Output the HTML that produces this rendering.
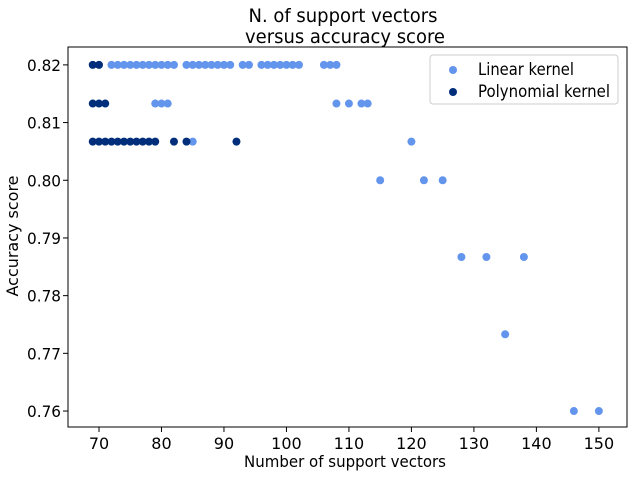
<!DOCTYPE html>
<html><head><meta charset="utf-8"><style>
body{margin:0;background:#fff;font-family:"DejaVu Sans","Liberation Sans",sans-serif;}
svg text{font-family:"DejaVu Sans","Liberation Sans",sans-serif;}
</style></head><body>
<svg id="chart" width="631" height="476" viewBox="0 0 631 476" xmlns="http://www.w3.org/2000/svg">
<text x="343" y="22" font-size="19" text-anchor="middle" textLength="189" lengthAdjust="spacingAndGlyphs">N. of support vectors</text>
<text x="345" y="43" font-size="19" text-anchor="middle" textLength="200" lengthAdjust="spacingAndGlyphs">versus accuracy score</text>
<text x="345" y="467" font-size="16" text-anchor="middle" textLength="202" lengthAdjust="spacingAndGlyphs">Number of support vectors</text>
<text transform="translate(18,236) rotate(-90)" font-size="16" text-anchor="middle" textLength="121" lengthAdjust="spacingAndGlyphs">Accuracy score</text>
<g id="ticks"></g>
<g id="marks"></g>
<rect x="68" y="47" width="559" height="380" fill="none" stroke="#000" stroke-width="1"/>
<g>
<rect x="430" y="55" width="188" height="49" rx="3" fill="#fff" stroke="#ccc"/>
<circle cx="453" cy="70" r="4" fill="#6495ed"/>
<text x="478" y="75" font-size="16.5" textLength="96" lengthAdjust="spacingAndGlyphs">Linear kernel</text>
<circle cx="453" cy="92" r="4" fill="#002e7a"/>
<text x="478" y="97" font-size="16.5" textLength="132" lengthAdjust="spacingAndGlyphs">Polynomial kernel</text>
</g>
</svg>
<script>
const xTicks=[70,80,90,100,110,120,130,140,150];
const yTicks=[0.76,0.77,0.78,0.79,0.80,0.81,0.82];
const yTickLabels=["0.76","0.77","0.78","0.79","0.80","0.81","0.82"];
const linearX=[72,73,74,75,76,77,78,79,80,81,82,84,85,86,87,88,89,90,91,93,94,96,97,98,99,100,101,102,106,107,108,
 79,80,81,108,110,112,113, 85,120, 115,122,125, 128,132,138, 135, 146,150];
const linearY=[0.82,0.82,0.82,0.82,0.82,0.82,0.82,0.82,0.82,0.82,0.82,0.82,0.82,0.82,0.82,0.82,0.82,0.82,0.82,0.82,0.82,0.82,0.82,0.82,0.82,0.82,0.82,0.82,0.82,0.82,0.82,
 0.8133,0.8133,0.8133,0.8133,0.8133,0.8133,0.8133, 0.8067,0.8067, 0.80,0.80,0.80, 0.7867,0.7867,0.7867, 0.7733, 0.76,0.76];
const polyX=[69,70, 69,70,71, 69,70,71,72,73,74,75,76,77,78,79,82,84,92];
const polyY=[0.82,0.82, 0.8133,0.8133,0.8133, 0.8067,0.8067,0.8067,0.8067,0.8067,0.8067,0.8067,0.8067,0.8067,0.8067,0.8067,0.8067,0.8067,0.8067];
const X0=68,X1=627,Y0=47,Y1=427,xmin=65.04,xmax=154.5,ymin=0.75723,ymax=0.8231;
const sx=v=>X0+(v-xmin)/(xmax-xmin)*(X1-X0);
const sy=v=>Y1-(v-ymin)/(ymax-ymin)*(Y1-Y0);
const NS="http://www.w3.org/2000/svg";
const tg=document.getElementById('ticks'),mg=document.getElementById('marks');
function mk(t,a,p){const e=document.createElementNS(NS,t);for(const k in a)e.setAttribute(k,a[k]);p.appendChild(e);return e;}
xTicks.forEach(v=>{
 const l=mk('line',{x1:sx(v),x2:sx(v),y1:Y1,y2:Y1+5,stroke:'#000'},tg);
 
 
 const t=mk('text',{x:sx(v),y:Y1+22,'font-size':16,'text-anchor':'middle'},tg);t.textContent=v;
 
 
});
yTicks.forEach((v,i)=>{
 const l=mk('line',{x1:X0-5,x2:X0,y1:sy(v),y2:sy(v),stroke:'#000'},tg);
 
 
 const t=mk('text',{x:X0-7,y:sy(v)+6,'font-size':16,'text-anchor':'end',textLength:34,lengthAdjust:'spacingAndGlyphs'},tg);t.textContent=yTickLabels[i];
 
 
});
linearX.forEach((v,i)=>{
 const c=mk('circle',{cx:sx(v),cy:sy(linearY[i]),r:4,fill:'#6495ed'},mg);
 
 
});
polyX.forEach((v,i)=>{
 const c=mk('circle',{cx:sx(v),cy:sy(polyY[i]),r:4,fill:'#002e7a'},mg);
 
 
});
</script>
</body></html>
